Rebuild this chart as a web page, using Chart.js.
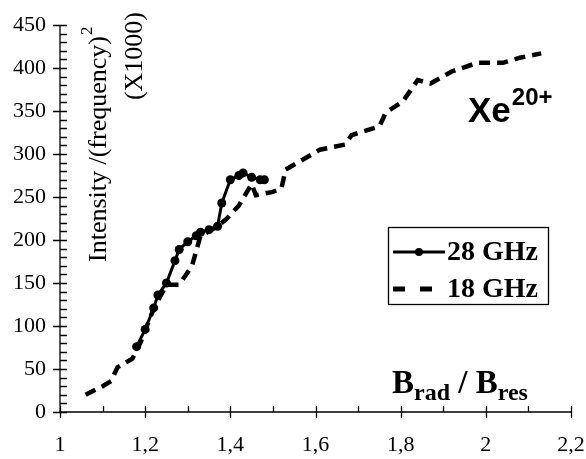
<!DOCTYPE html>
<html lang="en">
<head>
<meta charset="UTF-8">
<title>Xe20+ intensity vs Brad/Bres</title>
<style>
  body { margin: 0; background: #fff; }
  #wrap { width: 586px; height: 459px; }
</style>
</head>
<body>
<div id="wrap"><canvas id="myChart"></canvas></div>

<script src="https://cdn.jsdelivr.net/npm/chart.js"></script>
<script>
// 28 GHz (solid line with markers)
const x28 = [1.18, 1.20, 1.22, 1.23, 1.25, 1.27, 1.28, 1.30, 1.32, 1.33, 1.35, 1.37, 1.38, 1.40, 1.42, 1.43, 1.45, 1.47, 1.48];
const y28 = [76, 96, 121, 136, 150, 176, 189, 198, 205, 209, 212, 216, 243, 270, 275, 278, 273, 270, 270];

// 18 GHz (dashed line)
const x18 = [1.06, 1.10, 1.12, 1.135, 1.17, 1.19, 1.20, 1.22, 1.25, 1.28, 1.31, 1.33, 1.35, 1.37, 1.39, 1.42, 1.45, 1.46, 1.50, 1.52, 1.53, 1.60, 1.61, 1.67, 1.685, 1.75, 1.765, 1.805, 1.84, 1.87, 1.92, 1.98, 2.04, 2.08, 2.13];
const y18 = [20, 30, 36, 52, 62, 82, 95, 120, 148, 148, 170, 205, 210, 216, 224, 240, 265, 252, 256, 260, 282, 302, 305, 311, 322, 332, 348, 361, 386, 382, 396, 406, 406, 412, 417];

const seriesNames = ['28 GHz', '18 GHz'];
const xMin = 1, xMax = 2.2, xStep = 0.2, xMinor = 0.1;
const yMin = 0, yMax = 450, yStep = 50, yMinor = 10;

const toPts = (xs, ys) => xs.map((v, i) => ({x: v, y: ys[i]}));

// axes lines, tick marks, axis titles, annotation and legend box
const decor = {
  id: 'decor',
  afterDraw(chart) {
    const ctx = chart.ctx;
    const x = chart.scales.x, y = chart.scales.y;
    const x0 = x.getPixelForValue(xMin), x1 = x.getPixelForValue(xMax);
    const y0 = y.getPixelForValue(yMin), y1 = y.getPixelForValue(yMax);
    ctx.save();
    ctx.strokeStyle = '#000';
    ctx.lineWidth = 1.3;
    ctx.beginPath();
    ctx.moveTo(x0, y1); ctx.lineTo(x0, y0); ctx.lineTo(x1, y0);
    // y ticks
    for (let v = yMin; v <= yMax + 0.01; v += yMinor) {
      const py = Math.round(y.getPixelForValue(v)) + 0.5;
      const major = Math.abs(v / yStep - Math.round(v / yStep)) < 1e-6;
      ctx.moveTo(major ? x0 - 7 : x0, py); ctx.lineTo(x0 + 7, py);
    }
    // x ticks
    for (let v = xMin; v <= xMax + 0.001; v += xMinor) {
      const px = Math.round(x.getPixelForValue(v)) + 0.5;
      const major = Math.abs(v / xStep - Math.round(v / xStep)) < 1e-6;
      ctx.moveTo(px, y0 - 6); ctx.lineTo(px, major ? y0 + 6 : y0);
    }
    ctx.stroke();

    ctx.fillStyle = '#000';
    // y axis title (rotated, inside plot)
    ctx.save();
    ctx.translate(99, 262);
    ctx.rotate(-Math.PI / 2);
    ctx.font = '26px "Liberation Serif"';
    ctx.textBaseline = 'middle';
    ctx.textAlign = 'left';
    const t1 = 'Intensity /(frequency)';
    ctx.fillText(t1, 0, 0);
    const w1 = ctx.measureText(t1).width;
    ctx.font = '17px "Liberation Serif"';
    ctx.fillText('2', w1 + 1, -11);
    ctx.restore();

    ctx.save();
    ctx.translate(135, 12);
    ctx.rotate(-Math.PI / 2);
    ctx.font = '26px "Liberation Serif"';
    ctx.textBaseline = 'middle';
    ctx.textAlign = 'right';
    ctx.fillText('(X1000)', 0, 0);
    ctx.restore();

    // x axis title
    ctx.textAlign = 'left';
    ctx.textBaseline = 'alphabetic';
    let cx = 392;
    const part = (txt, font, dy) => {
      ctx.font = font;
      ctx.fillText(txt, cx, 393 + dy);
      cx += ctx.measureText(txt).width;
    };
    part('B', 'bold 33px "Liberation Serif"', 0);
    part('rad', 'bold 24px "Liberation Serif"', 7);
    part(' / ', 'bold 33px "Liberation Serif"', 0);
    part('B', 'bold 33px "Liberation Serif"', 0);
    part('res', 'bold 24px "Liberation Serif"', 7);

    // ion label
    ctx.font = 'bold 35px "Liberation Sans"';
    ctx.fillText('Xe', 468, 122);
    const wx = ctx.measureText('Xe').width;
    ctx.font = 'bold 24px "Liberation Sans"';
    ctx.fillText('20+', 468 + wx + 1, 105);

    // legend
    ctx.lineWidth = 1.3;
    ctx.strokeRect(388.5, 227.5, 160, 77);
    const ds = chart.data.datasets;
    ctx.strokeStyle = ds[0].borderColor;
    ctx.lineWidth = ds[0].borderWidth;
    ctx.beginPath(); ctx.moveTo(393, 252); ctx.lineTo(445, 252); ctx.stroke();
    ctx.beginPath(); ctx.arc(419, 252, 4, 0, Math.PI * 2); ctx.fill();
    ctx.strokeStyle = ds[1].borderColor;
    ctx.lineWidth = 5;
    ctx.setLineDash([12, 15]);
    ctx.beginPath(); ctx.moveTo(393, 289); ctx.lineTo(445, 289); ctx.stroke();
    ctx.setLineDash([]);
    ctx.font = 'bold 28px "Liberation Serif"';
    ctx.textBaseline = 'middle';
    ctx.fillText(seriesNames[0], 447, 253);
    ctx.fillText(seriesNames[1], 447, 290);
    ctx.restore();
  }
};

const ctxEl = document.getElementById('myChart');
new Chart(ctxEl, {
  type: 'scatter',
  data: {
    datasets: [{
      label: seriesNames[0],
      data: toPts(x28, y28),
      showLine: true,
      borderColor: '#000',
      backgroundColor: '#000',
      borderWidth: 3,
      pointRadius: 4.5,
      pointBorderWidth: 0,
      pointBackgroundColor: '#000'
    }, {
      label: seriesNames[1],
      data: toPts(x18, y18),
      showLine: true,
      borderColor: '#000',
      borderWidth: 4.5,
      borderDash: [11, 7],
      borderCapStyle: 'butt',
      pointRadius: 0
    }]
  },
  options: {
    responsive: true,
    maintainAspectRatio: false,
    animation: false,
    layout: { padding: { top: 25, right: 15, left: 0, bottom: 0 } },
    plugins: { legend: { display: false }, tooltip: { enabled: false } },
    scales: {
      x: {
        type: 'linear',
        min: xMin, max: xMax,
        grid: { display: false, drawTicks: false },
        border: { display: false },
        ticks: {
          stepSize: xStep,
          padding: 20,
          color: '#000',
          font: { family: 'Liberation Serif', size: 22 },
          callback: v => String(+v.toFixed(1)).replace('.', ',')
        },
        afterFit: s => { s.height = 47; s.paddingLeft = 0; s.paddingRight = 0; }
      },
      y: {
        min: yMin, max: yMax,
        grid: { display: false, drawTicks: false },
        border: { display: false },
        ticks: {
          stepSize: yStep,
          padding: 14,
          color: '#000',
          font: { family: 'Liberation Serif', size: 22 }
        },
        afterFit: s => { s.width = 60; s.paddingTop = 0; s.paddingBottom = 0; }
      }
    }
  },
  plugins: [decor]
});
</script>
</body>
</html>
